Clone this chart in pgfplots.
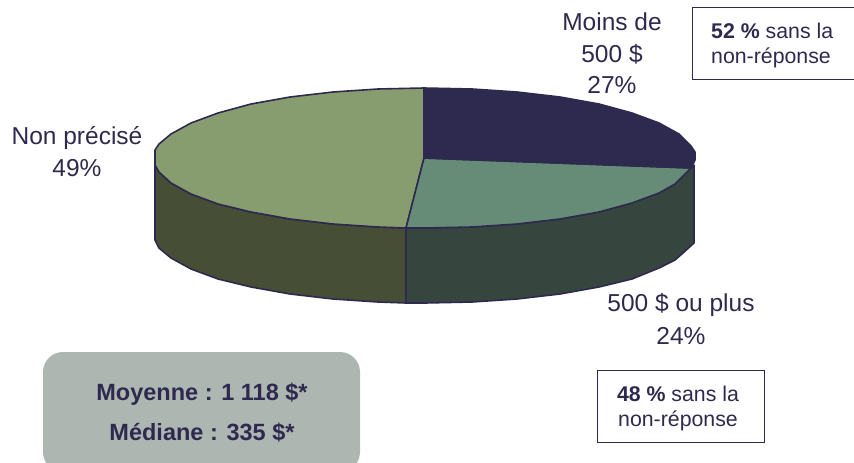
\documentclass[border=0pt]{standalone}
\usepackage{pgfplots}
\pgfplotsset{compat=1.18}
\usepackage{fontspec}
\setmainfont{Liberation Sans}
\definecolor{navy}{HTML}{2E2A4F}
\definecolor{teal2}{HTML}{668C78}
\definecolor{green2}{HTML}{889D6F}
\definecolor{sideg}{HTML}{464E36}
\definecolor{sidet}{HTML}{36463E}
\definecolor{boxg}{HTML}{AEB6B2}
\begin{document}
\begin{tikzpicture}
\begin{axis}[
  width=854pt,height=463pt,scale only axis,
  xmin=0,xmax=854,ymin=0,ymax=463,y dir=reverse,
  axis line style={draw=none},xtick=\empty,ytick=\empty,clip=true
]
% side of the "Non précisé" slice
\addplot[fill=sideg,draw=navy,line width=1.6pt,line join=round] coordinates {
(155,165)(159,172)(171,183)(191,194)(218,204)(251,212)(290,219)(333,224)(378,227)(406,228)
(406,303)(378,302)(333,299)(290,294)(251,287)(218,279)(191,269)(171,258)(159,248)(155,240)} --cycle;
% side of the "500 $ ou plus" slice
\addplot[fill=sidet,draw=navy,line width=1.6pt,line join=round] coordinates {
(406,228)(425,228)(472,227)(517,224)(560,219)(599,212)(632,203)(659,193)(675,184)(690,168)
(694,165)(694,243)(683,253)(675,260)(659,268)(632,279)(599,287)(560,294)(517,299)(472,302)(425,303)(406,303)} --cycle;
% top: "Non précisé"
\addplot[fill=green2,draw=navy,line width=1.6pt,line join=round] coordinates {
(424,158)(406,228)(378,227)(333,224)(290,219)(251,212)(218,204)(191,194)(171,183)(159,172)(155,165)
(155,150)(159,144)(171,134)(191,123)(218,113)(251,104)(290,97)(333,92)(378,89)(424,88)} --cycle;
% top: "500 $ ou plus"
\addplot[fill=teal2,draw=navy,line width=1.6pt,line join=round] coordinates {
(424,158)(691,168)(675,184)(659,193)(632,203)(599,212)(560,219)(517,224)(472,227)(425,228)(406,228)} --cycle;
% top: "Moins de 500 $"
\addplot[fill=navy,draw=navy,line width=1.6pt,line join=round] coordinates {
(424,158)(424,88)(472,89)(517,92)(560,97)(599,104)(632,113)(659,123)(679,134)(691,146)(695,152)(695,160)(691,168)} --cycle;
% rounded box
\addplot[fill=boxg,draw=none,rounded corners=20pt] coordinates {
(43,352)(360,352)(360,472)(43,472)} --cycle;
% frames
\addplot[fill=white,draw=navy,line width=0.8pt] coordinates {(692,7.5)(860,7.5)(860,79)(692,79)} --cycle;
\addplot[fill=white,draw=navy,line width=0.8pt] coordinates {(597,370)(764,370)(764,442)(597,442)} --cycle;

\newcommand{\lab}{\color{navy}\fontsize{24.5}{28}\selectfont}
\newcommand{\bx}{\color{navy}\fontsize{21.3}{25}\selectfont}
\newcommand{\bg}{\color{navy}\fontsize{23.5}{28}\selectfont}
\node at (axis cs:612,22) {\lab Moins de};
\node at (axis cs:612,54) {\lab 500 \$};
\node at (axis cs:612,85) {\lab 27\%};
\node at (axis cs:77,138) {\lab Non précisé};
\node at (axis cs:77,168) {\lab 49\%};
\node at (axis cs:681,305) {\lab 500 \$ ou plus};
\node at (axis cs:681,336) {\lab 24\%};
\node[anchor=west,inner sep=0pt] at (axis cs:711,31) {\bx\textbf{52 \%} sans la};
\node[anchor=west,inner sep=0pt] at (axis cs:711,58) {\bx non-réponse};
\node at (axis cs:678,394) {\bx\textbf{48 \%} sans la};
\node at (axis cs:678,421) {\bx non-réponse};
\node at (axis cs:202,394) {\bg\textbf{Moyenne : 1 118 \$*}};
\node at (axis cs:202,433) {\bg\textbf{Médiane : 335 \$*}};
\end{axis}
\end{tikzpicture}
\end{document}
